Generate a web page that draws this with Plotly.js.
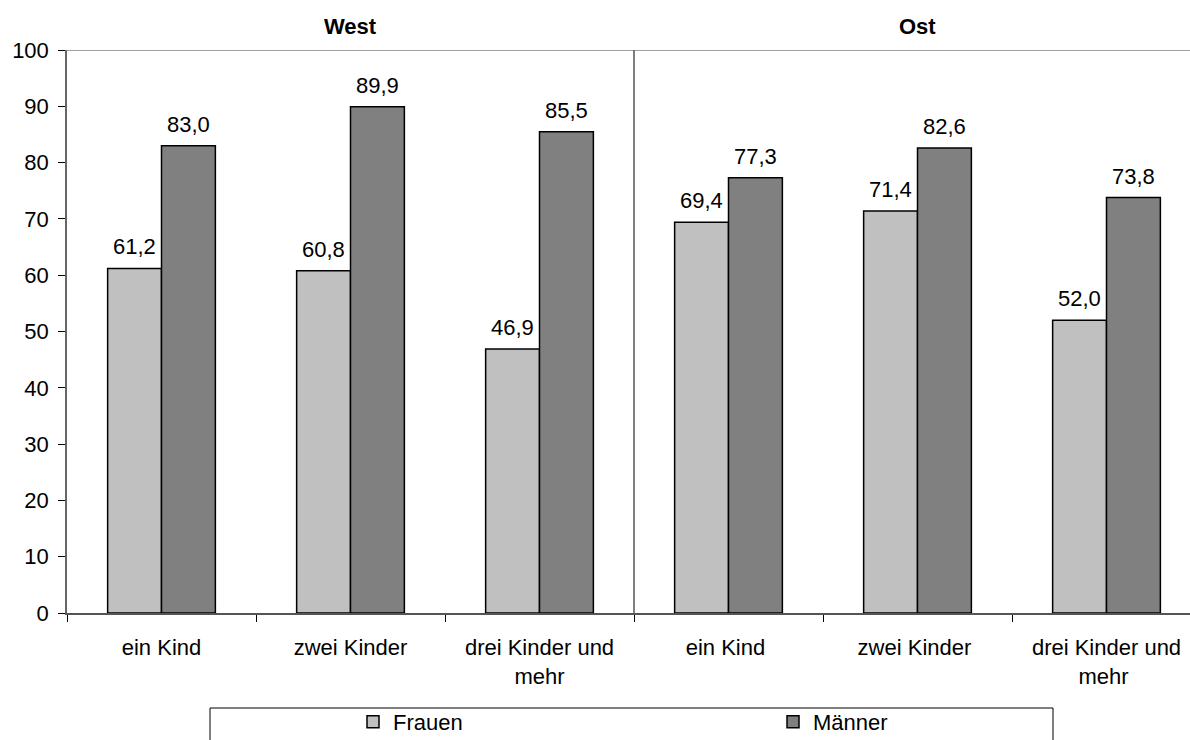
<!DOCTYPE html>
<html>
<head>
<meta charset="utf-8">
<script src="https://cdn.plot.ly/plotly-3.0.1.min.js"></script>
<style>
html,body{margin:0;padding:0;overflow:hidden;background:#fff;}
#chart{width:1210px;height:740px;}
</style>
</head>
<body>
<div id="chart"></div>
<script>
const categories = ["ein Kind", "zwei Kinder", "drei Kinder und<br>mehr", "ein Kind ", "zwei Kinder ", "drei Kinder und<br>mehr "];
const frauen = [61.2, 60.8, 46.9, 69.4, 71.4, 52.0];
const maenner = [83.0, 89.9, 85.5, 77.3, 82.6, 73.8];
const panels = ["West", "Ost"];
const yTicks = [0, 10, 20, 30, 40, 50, 60, 70, 80, 90, 100];

const fmt = v => v.toFixed(1).replace('.', ',');
const FONT = "Liberation Sans, Arial, sans-serif";
const FS = 22;

const traces = [
  {type:'bar', name:'Frauen', x:categories, y:frauen,
   marker:{color:'#c0c0c0', line:{color:'#000', width:1.5}}, hoverinfo:'x+y'},
  {type:'bar', name:'Männer', x:categories, y:maenner,
   marker:{color:'#808080', line:{color:'#000', width:1.5}}, hoverinfo:'x+y'}
];

const valueLabels = [];
categories.forEach((c, i) => {
  valueLabels.push({text:fmt(frauen[i]), xref:'x', yref:'y', x:c, y:frauen[i], xshift:-27, yshift:7,
    yanchor:'bottom', showarrow:false, font:{size:FS, family:FONT, color:'#000'}});
  valueLabels.push({text:fmt(maenner[i]), xref:'x', yref:'y', x:c, y:maenner[i], xshift:27, yshift:7,
    yanchor:'bottom', showarrow:false, font:{size:FS, family:FONT, color:'#000'}});
});

const layout = {
  width:1210, height:740,
  margin:{l:67, r:9, t:50, b:127, autoexpand:false},
  paper_bgcolor:'#fff', plot_bgcolor:'#fff',
  font:{family:FONT, size:FS, color:'#000'},
  barmode:'group', bargap:0.43, bargroupgap:0,
  showlegend:true,
  legend:{orientation:'h', x:(353-67)/1134, xanchor:'left', y:(613-722)/563, yanchor:'middle',
          entrywidth:375, entrywidthmode:'pixels', font:{size:FS, family:FONT},
          bgcolor:'rgba(0,0,0,0)', itemclick:false, itemdoubleclick:false},
  xaxis:{type:'category', showline:true, linecolor:'#555', linewidth:1.5,
         ticks:'outside', ticklen:7, tickcolor:'#000', tickson:'boundaries',
         ticklabelstandoff:14,
         showgrid:false, zeroline:false, tickfont:{size:FS, family:FONT}},
  yaxis:{range:[0,100], tickvals:yTicks, ticktext:yTicks.map(String),
         showline:true, linecolor:'#666', linewidth:1.5,
         ticks:'outside', ticklen:7, tickcolor:'#000', ticklabelstandoff:5,
         showgrid:false, zeroline:false, tickfont:{size:FS, family:FONT}},
  shapes:[
    {type:'line', xref:'paper', yref:'y', x0:0, x1:1, y0:100, y1:100, line:{color:'#808080', width:1.5}},
    {type:'line', xref:'x', yref:'y', x0:2.5, x1:2.5, y0:0, y1:100, line:{color:'#555', width:1.5}},
    {type:'rect', xref:'paper', yref:'paper', x0:(210-67)/1134, x1:(1053-67)/1134,
     y0:(613-780)/563, y1:(613-708)/563, line:{color:'#000', width:1}, fillcolor:'rgba(0,0,0,0)'}
  ],
  annotations:[
    {text:'<b>'+panels[0]+'</b>', xref:'x', yref:'paper', x:1, y:(613-27)/563, showarrow:false,
     font:{size:FS, family:FONT}, yanchor:'middle'},
    {text:'<b>'+panels[1]+'</b>', xref:'x', yref:'paper', x:4, y:(613-27)/563, showarrow:false,
     font:{size:FS, family:FONT}, yanchor:'middle'}
  ].concat(valueLabels)
};

Plotly.newPlot('chart', traces, layout, {displayModeBar:false});
</script>
</body>
</html>
